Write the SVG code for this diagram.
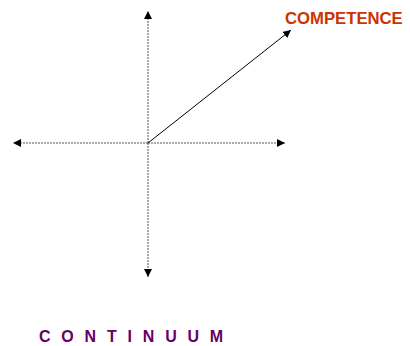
<svg xmlns="http://www.w3.org/2000/svg" width="410" height="346" viewBox="0 0 410 346">
<style>
.axis{stroke:#555;stroke-width:1;stroke-dasharray:2,1;fill:none}
.vec{stroke:#000;stroke-width:1;fill:none}
.lbl{font-family:"Liberation Sans",Arial,sans-serif;font-weight:bold}
</style>
<defs>
<marker id="ah" viewBox="0 0 10 10" refX="10" refY="5" markerWidth="8" markerHeight="8" markerUnits="userSpaceOnUse" orient="auto">
<path d="M0,0 L10,5 L0,10 Z" fill="#000"/>
</marker>
</defs>
<rect width="410" height="346" fill="#fff"/>
<g id="connectors">
<line class="axis" x1="148" y1="143" x2="13" y2="143" marker-end="url(#ah)"/>
<line class="axis" x1="148" y1="143" x2="285" y2="143" marker-end="url(#ah)"/>
<line class="axis" x1="148" y1="143" x2="148" y2="11" marker-end="url(#ah)"/>
<line class="axis" x1="148" y1="143" x2="148" y2="277" marker-end="url(#ah)"/>
<line class="vec" x1="148" y1="143" x2="291" y2="30" marker-end="url(#ah)"/>
</g>
<g id="competence">
<text class="lbl" x="285" y="24" font-size="16.7" fill="#CC3300">COMPETENCE</text>
</g>
<g id="continuum">
<text class="lbl" x="39" y="342" font-size="16" fill="#660066" letter-spacing="10.8">CONTINUUM</text>
</g>
</svg>
